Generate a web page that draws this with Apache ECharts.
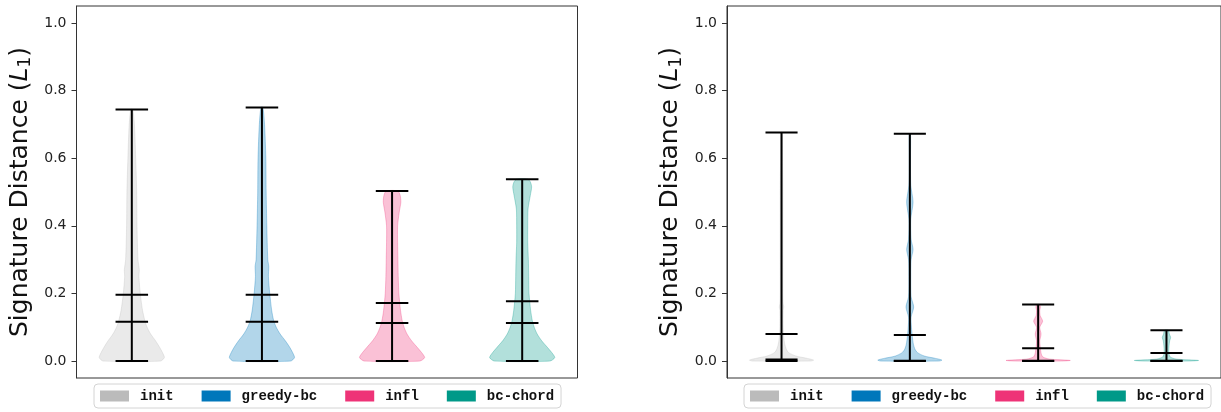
<!DOCTYPE html>
<html>
<head>
<meta charset="utf-8">
<script src="https://cdn.jsdelivr.net/npm/echarts@6/dist/echarts.min.js"></script>
<style>
  html, body { margin: 0; padding: 0; background: #fff; }
  #chart { width: 1221px; height: 412px; }
</style>
</head>
<body>
<div id="chart"></div>
<script>
// Methods compared in both panels
const categories = ['init', 'greedy-bc', 'infl', 'bc-chord'];
const colors = ['#bbbbbb', '#0077bb', '#ee3377', '#009988'];
const positions = [1, 2, 3, 4];
const yTicks = [0, 0.2, 0.4, 0.6, 0.8, 1.0];

// Left panel summary statistics
const leftMin = [0, 0, 0, 0];
const leftMax = [0.744, 0.750, 0.503, 0.538];
const leftMean = [0.196, 0.196, 0.172, 0.177];
const leftMedian = [0.116, 0.116, 0.113, 0.113];

// Right panel summary statistics
const rightMin = [0, 0, 0, 0];
const rightMax = [0.676, 0.672, 0.167, 0.091];
const rightMean = [0.080, 0.077, 0.038, 0.024];
const rightMedian = [0.005, 0.001, 0.001, 0.001];

// Density profiles (level, relative half-width) - left panel
const leftInitLevels = [0, 0.01, 0.02, 0.04, 0.06, 0.08, 0.10, 0.12, 0.15, 0.2, 0.25, 0.27, 0.3, 0.4, 0.5, 0.6, 0.7, 0.744];
const leftInitWidths = [0.88, 1.0, 0.97, 0.86, 0.73, 0.58, 0.47, 0.4, 0.33, 0.26, 0.22, 0.23, 0.19, 0.16, 0.15, 0.12, 0.08, 0.03];
const leftGreedyLevels = [0, 0.01, 0.02, 0.04, 0.06, 0.08, 0.10, 0.12, 0.15, 0.2, 0.25, 0.28, 0.3, 0.4, 0.5, 0.6, 0.7, 0.75];
const leftGreedyWidths = [0.88, 1.0, 0.97, 0.86, 0.72, 0.56, 0.44, 0.36, 0.3, 0.24, 0.2, 0.21, 0.18, 0.15, 0.13, 0.12, 0.08, 0.03];
const leftInflLevels = [0, 0.01, 0.02, 0.04, 0.06, 0.08, 0.10, 0.12, 0.15, 0.2, 0.25, 0.3, 0.35, 0.4, 0.44, 0.47, 0.49, 0.503];
const leftInflWidths = [0.85, 1.0, 0.95, 0.78, 0.6, 0.46, 0.37, 0.31, 0.26, 0.21, 0.19, 0.18, 0.17, 0.17, 0.22, 0.27, 0.25, 0.18];
const leftChordLevels = [0, 0.01, 0.02, 0.04, 0.06, 0.08, 0.10, 0.12, 0.15, 0.2, 0.25, 0.3, 0.35, 0.4, 0.45, 0.49, 0.515, 0.53, 0.538];
const leftChordWidths = [0.85, 1.0, 0.95, 0.78, 0.6, 0.46, 0.37, 0.31, 0.26, 0.21, 0.2, 0.19, 0.17, 0.17, 0.18, 0.25, 0.29, 0.25, 0.17];

// Density profiles - right panel
const rightInitLevels = [0, 0.003, 0.008, 0.015, 0.025, 0.035, 0.05, 0.07, 0.1, 0.15, 0.16, 0.17, 0.2, 0.3, 0.4, 0.5, 0.6, 0.676];
const rightInitWidths = [0.9, 1.0, 0.8, 0.45, 0.22, 0.15, 0.1, 0.07, 0.05, 0.05, 0.07, 0.05, 0.04, 0.04, 0.04, 0.04, 0.03, 0.02];
const rightGreedyLevels = [0, 0.003, 0.008, 0.015, 0.025, 0.035, 0.05, 0.07, 0.1, 0.13, 0.16, 0.19, 0.25, 0.3, 0.33, 0.36, 0.42, 0.47, 0.52, 0.6, 0.672];
const rightGreedyWidths = [0.9, 1.0, 0.8, 0.45, 0.24, 0.16, 0.11, 0.08, 0.05, 0.04, 0.12, 0.04, 0.03, 0.04, 0.10, 0.04, 0.03, 0.10, 0.03, 0.02, 0.02];
const rightInflLevels = [0, 0.002, 0.006, 0.012, 0.02, 0.03, 0.045, 0.06, 0.08, 0.1, 0.118, 0.135, 0.15, 0.16, 0.167];
const rightInflWidths = [0.7, 1.0, 0.35, 0.15, 0.1, 0.08, 0.06, 0.05, 0.09, 0.05, 0.14, 0.06, 0.05, 0.07, 0.04];
const rightChordLevels = [0, 0.002, 0.006, 0.012, 0.02, 0.03, 0.045, 0.06, 0.07, 0.08, 0.091];
const rightChordWidths = [0.7, 1.0, 0.3, 0.12, 0.08, 0.07, 0.08, 0.1, 0.13, 0.09, 0.06];

const profiles = [
  [[leftInitLevels, leftInitWidths], [leftGreedyLevels, leftGreedyWidths],
   [leftInflLevels, leftInflWidths], [leftChordLevels, leftChordWidths]],
  [[rightInitLevels, rightInitWidths], [rightGreedyLevels, rightGreedyWidths],
   [rightInflLevels, rightInflWidths], [rightChordLevels, rightChordWidths]]
];
const stats = [
  [leftMin, leftMax, leftMean, leftMedian],
  [rightMin, rightMax, rightMean, rightMedian]
];

const HALF_WIDTH = 0.25;   // maximum half width of a violin body (x units)
const CAP_HALF = 0.125;    // half length of the horizontal bars

function violinSeries(panel, k) {
  const [levels, widths] = profiles[panel][k];
  return {
    type: 'custom',
    name: categories[k],
    xAxisIndex: panel,
    yAxisIndex: panel,
    z: 2,
    silent: true,
    itemStyle: { color: colors[k] },
    data: [[positions[k], levels[levels.length - 1]]],
    renderItem: function (params, api) {
      const x = api.value(0);
      const left = [], right = [];
      for (let i = 0; i < levels.length; i++) {
        left.push(api.coord([x - widths[i] * HALF_WIDTH, levels[i]]));
        right.push(api.coord([x + widths[i] * HALF_WIDTH, levels[i]]));
      }
      const points = left.concat(right.reverse());
      return {
        type: 'polygon',
        shape: { points: points, smooth: 0.25 },
        style: { fill: colors[k], stroke: colors[k], lineWidth: 1, opacity: 0.3 }
      };
    }
  };
}

function statSeries(panel) {
  const [mins, maxs, means, medians] = stats[panel];
  return {
    type: 'custom',
    xAxisIndex: panel,
    yAxisIndex: panel,
    z: 5,
    silent: true,
    data: positions.map((p, k) => [p, mins[k], maxs[k], means[k], medians[k]]),
    renderItem: function (params, api) {
      const x = api.value(0);
      const lineStyle = { stroke: '#000', lineWidth: 2 };
      const children = [];
      const top = api.coord([x, api.value(2)]);
      const bot = api.coord([x, api.value(1)]);
      children.push({ type: 'line', shape: { x1: top[0], y1: top[1], x2: bot[0], y2: bot[1] }, style: lineStyle });
      for (let d = 1; d <= 4; d++) {
        const a = api.coord([x - CAP_HALF, api.value(d)]);
        const b = api.coord([x + CAP_HALF, api.value(d)]);
        children.push({ type: 'line', shape: { x1: a[0], y1: a[1], x2: b[0], y2: b[1] }, style: lineStyle });
      }
      return { type: 'group', children: children };
    }
  };
}

const gridLefts = [76.5, 727];
const legendLefts = [94, 744];

const option = {
  backgroundColor: '#ffffff',
  animation: false,
  grid: gridLefts.map(l => ({
    left: l, top: 6, width: 501, height: 372,
    show: true, borderColor: '#333', borderWidth: 1, backgroundColor: 'transparent'
  })),
  xAxis: [0, 1].map(g => ({
    type: 'value', gridIndex: g, min: 0.575, max: 4.425,
    axisLine: { show: false }, axisTick: { show: false },
    axisLabel: { show: false }, splitLine: { show: false }
  })),
  yAxis: [0, 1].map(g => ({
    type: 'value', gridIndex: g, min: -0.05, max: 1.05,
    axisLine: { show: true, lineStyle: { color: '#333', width: 1 } },
    axisTick: { show: true, length: 5, customValues: yTicks, lineStyle: { color: '#333', width: 1 } },
    axisLabel: {
      customValues: yTicks, formatter: v => v.toFixed(1),
      fontSize: 14, fontFamily: 'DejaVu Sans', color: '#222', margin: 10
    },
    splitLine: { show: false },
    name: '{a|Signature Distance (}{it|L}{sub|1}{a|)}',
    nameLocation: 'middle', nameRotate: 90, nameGap: 42,
    nameTextStyle: {
      fontSize: 25, fontFamily: 'DejaVu Sans', color: '#111',
      rich: {
        a: { fontSize: 25, fontFamily: 'DejaVu Sans', color: '#111' },
        it: { fontSize: 25, fontFamily: 'DejaVu Sans', fontStyle: 'italic', color: '#111' },
        sub: { fontSize: 17, fontFamily: 'DejaVu Sans', color: '#111', verticalAlign: 'bottom', padding: [12, 0, 0, 0] }
      }
    }
  })),
  legend: [0, 1].map(g => ({
    left: legendLefts[g], top: 384, orient: 'horizontal',
    data: categories.map((c, k) => ({ name: c, icon: 'rect', itemStyle: { color: colors[k] } })),
    itemWidth: 29, itemHeight: 11, itemGap: 28,
    padding: [5, 7, 5, 6],
    borderColor: '#d4d4d4', borderWidth: 1, borderRadius: 4, backgroundColor: '#fff',
    selectedMode: false,
    textStyle: { fontFamily: 'Liberation Mono', fontWeight: 'bold', fontSize: 14, color: '#111', padding: [0, 0, 0, 6] }
  })),
  series: []
};

for (let panel = 0; panel < 2; panel++) {
  for (let k = 0; k < categories.length; k++) option.series.push(violinSeries(panel, k));
  option.series.push(statSeries(panel));
}

const chart = echarts.init(document.getElementById('chart'), null, { renderer: 'canvas' });
chart.setOption(option);
</script>
</body>
</html>
